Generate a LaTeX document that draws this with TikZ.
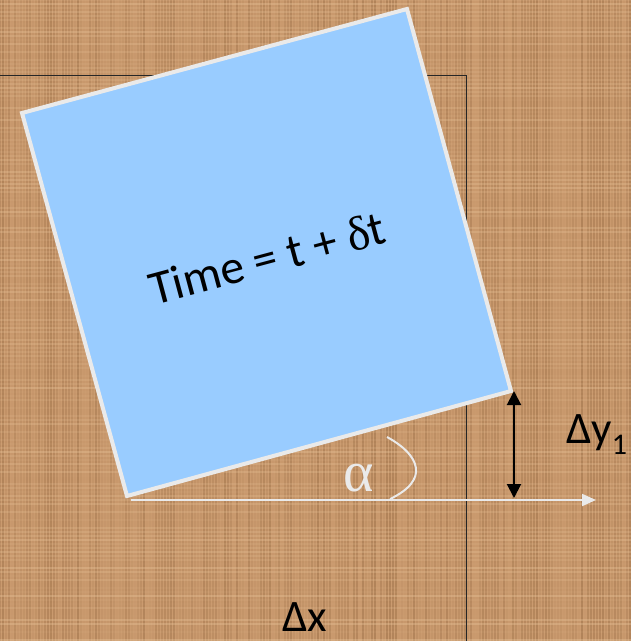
\documentclass[tikz,border=0pt]{standalone}
\usepackage{fontspec}
\setmainfont{Carlito}
\newfontfamily\symfont{Liberation Serif}
\usetikzlibrary{arrows.meta}
\definecolor{burlap}{RGB}{202,154,110}
\definecolor{burlapdark}{RGB}{130,88,50}
\definecolor{burlaplight}{RGB}{236,200,158}
\definecolor{sheet}{RGB}{153,204,255}
\definecolor{rim}{RGB}{234,234,234}

\begin{document}
\begin{tikzpicture}[
    x=1pt, y=-1pt,
    thread/.style={line width=1.2pt},
    outline/.style={draw=black!85, line width=0.8pt},
    sheetbox/.style={fill=sheet, draw=rim, line width=4pt, line join=miter},
    base/.style={draw=rim, line width=2pt, -{Triangle[length=14pt, width=12pt]}},
    rise/.style={draw=black, line width=2pt,
      {Triangle[length=14pt, width=14pt]}-{Triangle[length=14pt, width=14pt]}},
    lbl/.style={inner sep=0pt, font=\fontsize{45}{45}\selectfont},
  ]
    \useasboundingbox (0,0) rectangle (631,641);
    % cloth background
    \fill[burlap] (0,0) rectangle (631,641);
    \pgfmathsetseed{11}
    \foreach \i in {0,3,...,630} {
      \pgfmathsetmacro\op{0.35*rnd}
      \draw[thread, burlapdark, opacity=\op] (\i,0) -- (\i,641);
    }
    \foreach \j in {0,4,...,640} {
      \pgfmathsetmacro\op{0.35*rnd}
      \draw[thread, burlaplight, opacity=\op] (0,\j) -- (631,\j);
    }
    % square at time t
    \draw[outline] (0,75) -- (466,75) -- (466,641);
    % rotated square
    \coordinate (tl) at (22,113);
    \coordinate (tr) at (407,9);
    \coordinate (br) at (511,391);
    \coordinate (bl) at (127,496);
    \draw[sheetbox] (tl) -- (tr) -- (br) -- (bl) -- cycle;
    \node[rotate=15, font=\fontsize{48}{48}\selectfont] (time) at (267,258)
      {Time = t + {\symfont δ}t};
    % displacements
    \coordinate (bx) at (131,500);
    \coordinate (ex) at (596,500);
    \draw[base] (bx) -- (ex);
    \coordinate (top) at (514,391);
    \coordinate (foot) at (514,498);
    \draw[rise] (top) -- (foot);
    % angle
    \coordinate (a1) at (387,437);
    \coordinate (a2) at (390,499);
    \draw[rim, line width=2pt] (a1) .. controls (420,455) and (430,480) .. (a2);
    \node[rim, inner sep=0pt, font=\symfont\fontsize{58}{58}\selectfont] (alpha) at (359,478) {α};
    % labels
    \node[lbl, anchor=base west] (dy) at (566,443)
      {Δy\raisebox{-11pt}{\fontsize{30}{30}\selectfont 1}};
    \node[lbl, anchor=base west] (dx) at (282,631) {Δx};
  \end{tikzpicture}
\end{document}
